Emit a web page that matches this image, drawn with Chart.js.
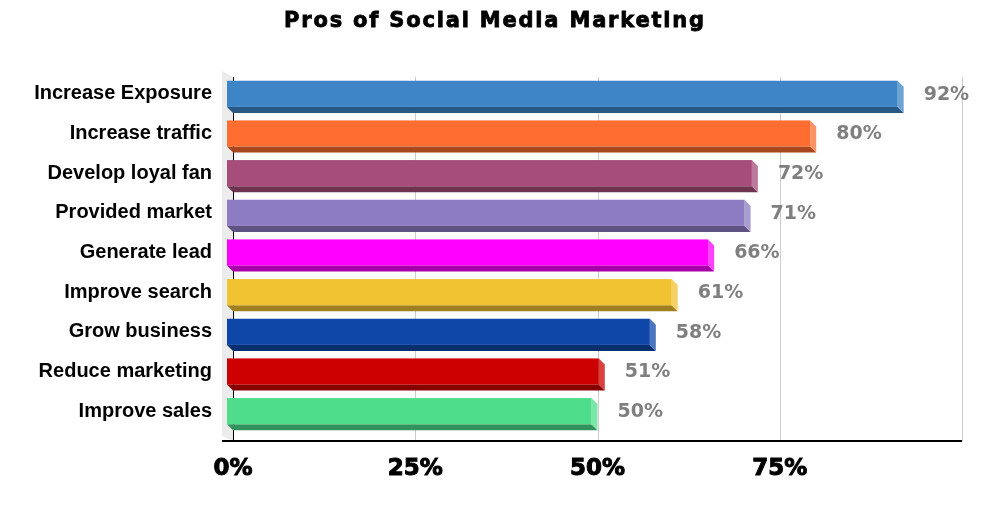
<!DOCTYPE html>
<html>
<head>
<meta charset="utf-8">
<script src="https://cdn.jsdelivr.net/npm/chart.js@4.4.1/dist/chart.umd.min.js"></script>
<style>
  html, body { margin: 0; padding: 0; background: #fff; }
  #wrap { width: 988px; height: 507px; }
</style>
</head>
<body>
<div id="wrap"><canvas id="prosChart" width="988" height="507"></canvas></div>
<script>
const chartTitle = 'Pros of Social Media Marketing';
const categories = ['Increase Exposure', 'Increase traffic', 'Develop loyal fan', 'Provided market',
  'Generate lead', 'Improve search', 'Grow business', 'Reduce marketing', 'Improve sales'];
const values = [92, 80, 72, 71, 66, 61, 58, 51, 50];
const barColors = ['#3d85c6', '#ff6d31', '#a64d79', '#8e7cc3', '#ff00ff', '#f1c232', '#0f47a8', '#cc0000', '#4ddd8b'];
const tickValues = [0, 25, 50, 75, 100];

const DEPTH = 6; // bar depth in px

function mix(hex, target, f) {
  const n = parseInt(hex.slice(1), 16);
  const c = [(n >> 16) & 255, (n >> 8) & 255, n & 255].map(v => Math.round(v + (target - v) * f));
  return `rgb(${c[0]},${c[1]},${c[2]})`;
}

const bar3d = {
  id: 'bar3d',
  beforeDatasetsDraw(chart) {
    const { ctx, chartArea: a, scales: { x } } = chart;
    ctx.save();
    // back wall on the left
    ctx.fillStyle = '#ececec';
    ctx.beginPath();
    ctx.moveTo(a.left - 11, a.top - 3);
    ctx.lineTo(a.left, a.top + 3);
    ctx.lineTo(a.left, a.bottom + 10);
    ctx.lineTo(a.left - 11, a.bottom + 5);
    ctx.closePath();
    ctx.fill();
    // vertical grid lines
    ctx.lineWidth = 1;
    x.ticks.forEach(t => {
      const px = Math.round(x.getPixelForValue(t.value)) + 0.5;
      ctx.strokeStyle = t.value === 0 ? '#000' : '#cccccc';
      ctx.beginPath();
      ctx.moveTo(px, a.top + 3);
      ctx.lineTo(px, a.bottom + 10);
      ctx.stroke();
    });
    // floor line
    ctx.strokeStyle = '#000';
    ctx.lineWidth = 2;
    ctx.beginPath();
    ctx.moveTo(a.left - 11, a.bottom + 10);
    ctx.lineTo(a.right, a.bottom + 10);
    ctx.stroke();
    ctx.restore();
  },
  afterDatasetsDraw(chart) {
    const { ctx } = chart;
    const meta = chart.getDatasetMeta(0);
    ctx.save();
    meta.data.forEach((bar, i) => {
      const { x, y, base, height } = bar.getProps(['x', 'y', 'base', 'height'], true);
      const col = barColors[i];
      const top = y - height / 2, bot = y + height / 2;
      const fx = x - DEPTH, fb = base - DEPTH;
      // bottom face
      ctx.fillStyle = mix(col, 0, 0.34);
      ctx.beginPath();
      ctx.moveTo(fb, bot);
      ctx.lineTo(fx, bot);
      ctx.lineTo(x, bot + DEPTH);
      ctx.lineTo(base, bot + DEPTH);
      ctx.closePath();
      ctx.fill();
      // right face
      ctx.fillStyle = mix(col, 255, 0.25);
      ctx.beginPath();
      ctx.moveTo(fx, top);
      ctx.lineTo(x, top + DEPTH);
      ctx.lineTo(x, bot + DEPTH);
      ctx.lineTo(fx, bot);
      ctx.closePath();
      ctx.fill();
      // front face
      ctx.fillStyle = col;
      ctx.fillRect(fb, top, fx - fb, height);
      // value label
      ctx.fillStyle = '#7f7f7f';
      ctx.font = 'bold 19px "DejaVu Sans"';
      ctx.textAlign = 'left';
      ctx.textBaseline = 'middle';
      ctx.fillText(values[i] + '%', x + 20, y + 1);
    });
    ctx.restore();
  },
  afterDraw(chart) {
    // title: wide heavy look like the original
    const { ctx } = chart;
    ctx.save();
    ctx.font = 'bold 21px "DejaVu Sans"';
    ctx.letterSpacing = '1.8px';
    ctx.textAlign = 'center';
    ctx.textBaseline = 'middle';
    ctx.fillStyle = '#000';
    ctx.strokeStyle = '#000';
    ctx.lineWidth = 0.8;
    ctx.fillText(chartTitle, chart.width / 2 + 1, 22);
    ctx.strokeText(chartTitle, chart.width / 2 + 1, 22);
    ctx.letterSpacing = '0px';
    ctx.restore();
  }
};

new Chart(document.getElementById('prosChart'), {
  type: 'bar',
  data: {
    labels: categories,
    datasets: [{
      data: values,
      backgroundColor: 'rgba(0,0,0,0)',
      borderWidth: 0,
      barPercentage: 0.66,
      categoryPercentage: 1
    }]
  },
  options: {
    indexAxis: 'y',
    responsive: false,
    animation: false,
    layout: { padding: { top: 74, right: 26, left: 0, bottom: 0 } },
    scales: {
      x: {
        min: 0,
        max: 100,
        afterBuildTicks: s => { s.ticks = tickValues.map(v => ({ value: v })); },
        afterFit: s => { s.height = 76; },
        grid: { display: false },
        border: { display: false },
        ticks: {
          autoSkip: false,
          maxRotation: 0,
          padding: 16,
          color: '#000',
          font: { family: 'DejaVu Sans', weight: 'bold', size: 23 },
          textStrokeColor: '#000',
          textStrokeWidth: 1,
          callback: v => v === 100 ? '' : v + '%'
        }
      },
      y: {
        afterFit: s => { s.width = 233; },
        grid: { display: false },
        border: { display: false },
        ticks: {
          padding: 13,
          color: '#000',
          font: { family: 'Liberation Sans', weight: 'bold', size: 20 }
        }
      }
    },
    plugins: {
      legend: { display: false },
      tooltip: { enabled: false },
      title: { display: false }
    }
  },
  plugins: [bar3d]
});
</script>
</body>
</html>
